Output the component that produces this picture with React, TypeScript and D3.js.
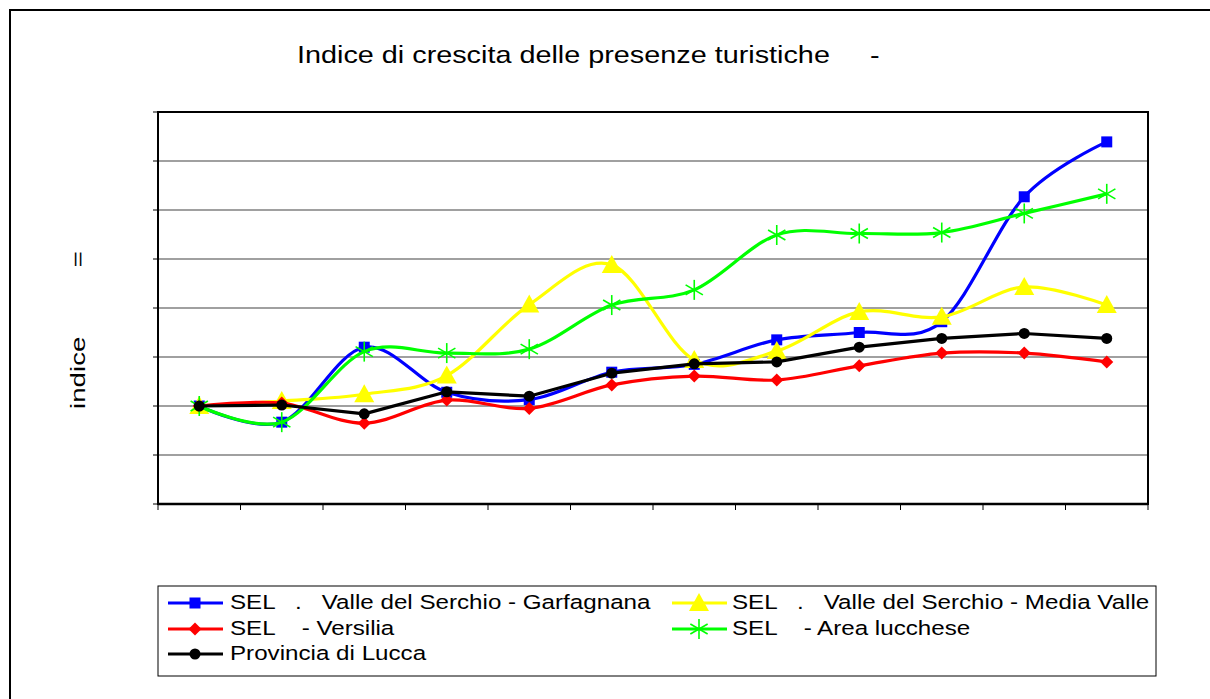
import React from "react";
import * as d3 from "d3";

const categories = ["c1", "c2", "c3", "c4", "c5", "c6", "c7", "c8", "c9", "c10", "c11", "c12"];
const yTicks = [80, 90, 100, 110, 120, 130, 140, 150, 160];

const garfagnana = [100, 96.7, 112.0, 102.8, 101.3, 106.9, 108.5, 113.5, 115.0, 117.2, 142.7, 153.9];
const mediaValle = [100, 101.0, 102.4, 106.2, 120.7, 128.8, 109.4, 111.2, 119.2, 118.2, 124.3, 120.6];
const versilia = [100, 100.6, 96.5, 101.2, 99.5, 104.3, 106.1, 105.3, 108.2, 110.8, 110.8, 109.0];
const areaLucchese = [100, 96.7, 111.1, 110.8, 111.6, 120.6, 123.7, 134.9, 135.2, 135.4, 139.3, 143.3];
const provincia = [100, 100.2, 98.4, 102.9, 102.0, 106.7, 108.6, 109.0, 112.0, 113.8, 114.8, 113.8];

const seriesNames = [
  "SEL   .   Valle del Serchio - Garfagnana",
  "SEL   .   Valle del Serchio - Media Valle",
  "SEL    - Versilia",
  "SEL    - Area lucchese",
  "Provincia di Lucca",
];
const title = "Indice di crescita delle presenze turistiche     -";
const yTitle = "indice         =";

type Series = { name: string; values: number[]; color: string; marker: string; smooth: boolean };

const series: Series[] = [
  { name: seriesNames[0], values: garfagnana, color: "#0000ff", marker: "square", smooth: true },
  { name: seriesNames[1], values: mediaValle, color: "#ffff00", marker: "triangle", smooth: true },
  { name: seriesNames[2], values: versilia, color: "#ff0000", marker: "diamond", smooth: true },
  { name: seriesNames[3], values: areaLucchese, color: "#00ff00", marker: "asterisk", smooth: true },
  { name: seriesNames[4], values: provincia, color: "#000000", marker: "circle", smooth: false },
];

const FONT = "'Liberation Sans', Arial, sans-serif";
const X0 = 158, X1 = 1148, Y0 = 112, Y1 = 504;

function Marker({ type, x, y, color }: { type: string; x: number; y: number; color: string }) {
  if (type === "square") return <rect x={x - 5.5} y={y - 5.5} width={11} height={11} fill={color} />;
  if (type === "diamond")
    return <path d={`M${x},${y - 6.5}L${x + 6.5},${y}L${x},${y + 6.5}L${x - 6.5},${y}Z`} fill={color} />;
  if (type === "triangle")
    return <path d={`M${x},${y - 10}L${x + 10},${y + 8}L${x - 10},${y + 8}Z`} fill={color} />;
  if (type === "circle") return <circle cx={x} cy={y} r={5.5} fill={color} />;
  if (type === "asterisk") {
    const r = 10;
    const angles = [90, 30, 150];
    return (
      <g stroke={color} strokeWidth={1.6}>
        {angles.map((a) => {
          const dx = r * Math.cos((a * Math.PI) / 180);
          const dy = r * Math.sin((a * Math.PI) / 180);
          return <line key={a} x1={x - dx} y1={y - dy} x2={x + dx} y2={y + dy} />;
        })}
      </g>
    );
  }
  return null;
}

export default function App() {
  const x = d3.scaleBand<string>().domain(categories).range([X0, X1]);
  const y = d3.scaleLinear().domain([80, 160]).range([Y1, Y0]);
  const cx = (i: number) => (x(categories[i]) as number) + x.bandwidth() / 2;

  const legendRows = [
    { s: series[0], lx: 168, ly: 603, tx: 230, ty: 609 },
    { s: series[1], lx: 672, ly: 603, tx: 732, ty: 609 },
    { s: series[2], lx: 168, ly: 629, tx: 230, ty: 635 },
    { s: series[3], lx: 672, ly: 629, tx: 732, ty: 635 },
    { s: series[4], lx: 168, ly: 654, tx: 230, ty: 660 },
  ];

  const boundaries = d3.range(categories.length + 1).map((i) => X0 + i * x.step());

  return (
    <svg width={1210} height={699} style={{ position: "absolute", left: 0, top: 0, background: "#fff" }}>
      <rect x={0} y={0} width={1210} height={699} fill="#fff" />
      <rect x={10} y={10} width={1220} height={720} fill="none" stroke="#000" strokeWidth={2} />
      <text
        transform={`translate(297,63) scale(1.2,1)`}
        fontFamily={FONT}
        fontSize={24}
        style={{ whiteSpace: "pre" }}
        fill="#000"
      >
        {title}
      </text>
      <text
        transform={`translate(85,409) rotate(-90) scale(1.32,1)`}
        fontFamily={FONT}
        fontSize={21}
        style={{ whiteSpace: "pre" }}
        fill="#000"
      >
        {yTitle}
      </text>

      {yTicks.map((t) => (
        <g key={t}>
          <line x1={X0} x2={X1} y1={y(t)} y2={y(t)} stroke="#808080" strokeWidth={1.5} />
          <line x1={X0 - 5} x2={X0} y1={y(t)} y2={y(t)} stroke="#000" strokeWidth={1} />
        </g>
      ))}
      {boundaries.map((b, i) => (
        <line key={i} x1={b} x2={b} y1={Y1} y2={Y1 + 6} stroke="#000" strokeWidth={1} />
      ))}
      <rect x={X0} y={Y0} width={X1 - X0} height={Y1 - Y0} fill="none" stroke="#000" strokeWidth={2} />
      <line x1={X0} x2={X1} y1={Y1} y2={Y1} stroke="#000" strokeWidth={2.5} />

      {series.map((s) => {
        const line = d3
          .line<number>()
          .x((_, i) => cx(i))
          .y((v) => y(v))
          .curve(s.smooth ? d3.curveCardinal.tension(0) : d3.curveLinear);
        return (
          <g key={s.name}>
            <path d={line(s.values) || ""} fill="none" stroke={s.color} strokeWidth={3.2} strokeLinejoin="round" />
            {s.values.map((v, i) => (
              <Marker key={i} type={s.marker} x={cx(i)} y={y(v)} color={s.color} />
            ))}
          </g>
        );
      })}

      <rect x={158} y={586} width={998} height={90} fill="#fff" stroke="#000" strokeWidth={1} />
      {legendRows.map((r) => (
        <g key={r.s.name}>
          <line x1={r.lx} x2={r.lx + 55} y1={r.ly} y2={r.ly} stroke={r.s.color} strokeWidth={3.2} />
          <Marker type={r.s.marker} x={r.lx + 27} y={r.ly} color={r.s.color} />
          <text
            transform={`translate(${r.tx},${r.ty}) scale(1.24,1)`}
            fontFamily={FONT}
            fontSize={19.5}
            style={{ whiteSpace: "pre" }}
            fill="#000"
          >
            {r.s.name}
          </text>
        </g>
      ))}
    </svg>
  );
}
